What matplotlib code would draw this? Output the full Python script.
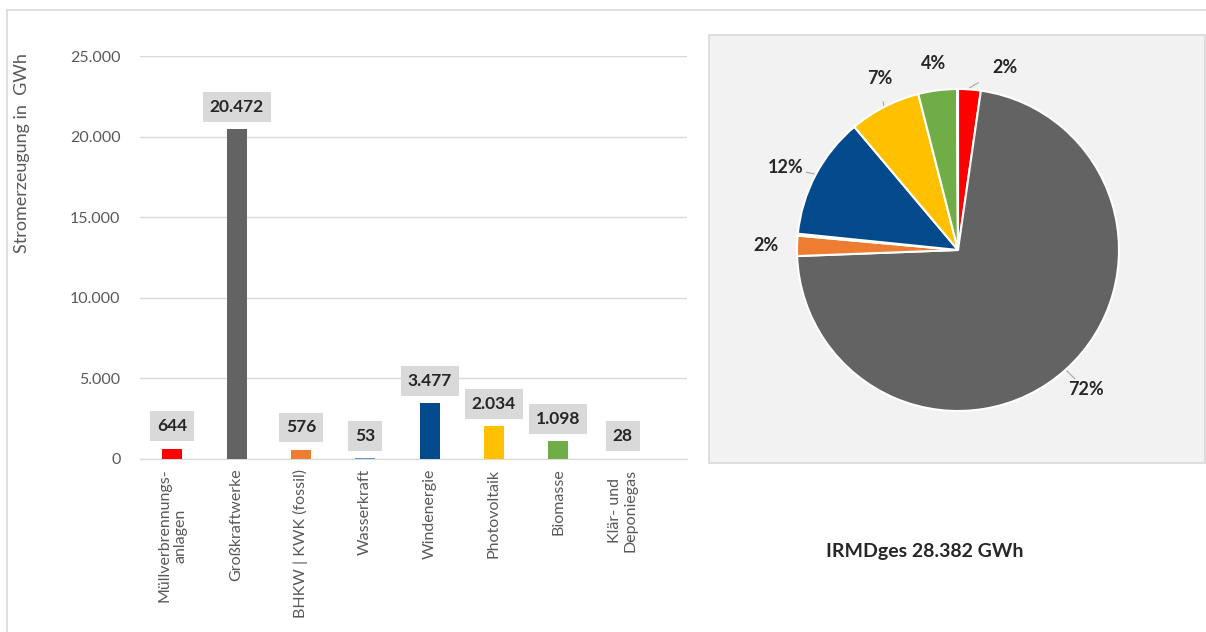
import matplotlib
matplotlib.use("Agg")
import numpy as np
import matplotlib.pyplot as plt
from matplotlib.patches import Rectangle
from matplotlib.lines import Line2D
from matplotlib.ticker import FuncFormatter

plt.rcParams['font.family'] = ['Lato', 'DejaVu Sans']

# data
categories = ["Müllverbrennungs-\nanlagen", "Großkraftwerke", "BHKW | KWK (fossil)",
              "Wasserkraft", "Windenergie", "Photovoltaik", "Biomasse",
              "Klär- und\nDeponiegas"]
values = [644, 20472, 576, 53, 3477, 2034, 1098, 28]
value_labels = ["644", "20.472", "576", "53", "3.477", "2.034", "1.098", "28"]
colors = ["#ff0000", "#636363", "#ed7d31", "#5b9bd5", "#034a8c", "#ffc000", "#70ad47", "#a5a5a5"]
pie_labels = ["2%", "72%", "2%", "", "12%", "7%", "4%", ""]
leader = [True, True, False, False, True, True, False, False]
label_shift = [-10, 0, 0, 0, 2, -3, 0, 0]   # degrees, nudges label placement
total_label = "IRMDges 28.382 GWh"

W, H = 1206, 632
fig = plt.figure(figsize=(W / 100, H / 100), dpi=100)

def px(x0, y0, x1, y1):
    # pixel box (top-left origin) -> figure fraction rect
    return [x0 / W, 1 - y1 / H, (x1 - x0) / W, (y1 - y0) / H]

# outer frame lines
fig.add_artist(Line2D([7 / W, 7 / W], [0, 1 - 10 / H], transform=fig.transFigure, color="#d9d9d9", lw=1.2))
fig.add_artist(Line2D([7 / W, 1], [1 - 10 / H, 1 - 10 / H], transform=fig.transFigure, color="#d9d9d9", lw=1.2))

# ---- bar chart ----
ax = fig.add_axes(px(140, 56, 687, 459))
x = np.arange(len(values))
ax.bar(x, values, width=0.31, color=colors, zorder=3)
ax.set_xlim(-0.5, 8.0)
ax.set_ylim(0, 25000)
ax.set_yticks(np.arange(0, 25001, 5000))
ax.yaxis.set_major_formatter(FuncFormatter(lambda v, p: "{:,.0f}".format(v).replace(",", ".")))
ax.grid(axis="y", color="#d9d9d9", lw=1, zorder=0)
for s in ["top", "right", "left"]:
    ax.spines[s].set_visible(False)
ax.spines["bottom"].set_color("#d9d9d9")
ax.tick_params(axis="both", length=0, colors="#595959", labelsize=11.5)
ax.tick_params(axis="y", pad=14)
ax.tick_params(axis="x", pad=7)
ax.set_xticks(x)
ax.set_xticklabels(categories, rotation=90, va="top", ha="center", multialignment="center")

for xi, v, lab in zip(x, values, value_labels):
    ax.annotate(lab, (xi, v), xytext=(0, 16), textcoords="offset points",
                ha="center", va="center", fontsize=12.5, fontweight="bold", color="#262626",
                bbox=dict(boxstyle="square,pad=0.4", fc="#d9d9d9", ec="none"), zorder=4)

fig.text(22 / W, 1 - 153 / H, "Stromerzeugung in  GWh", rotation=90, ha="center", va="center",
         fontsize=13, color="#595959")

# ---- pie chart ----
fig.add_artist(Rectangle((709 / W, 1 - 463 / H), 496 / W, 428 / H, transform=fig.transFigure,
                         fc="#f2f2f2", ec="#d9d9d9", lw=1.2, zorder=0))

cx, cy, r = 958, 250, 161
half = r * 1.3
ax2 = fig.add_axes(px(cx - half, cy - half, cx + half, cy + half))
ax2.set_facecolor("none")
wedges, _ = ax2.pie(values, colors=colors, startangle=90, counterclock=False,
                    wedgeprops=dict(edgecolor="white", linewidth=1.5))
ax2.set_xlim(-1.3, 1.3)
ax2.set_ylim(-1.3, 1.3)
ax2.set_aspect("equal")
ax2.axis("off")

for w, lab, ln, sh in zip(wedges, pie_labels, leader, label_shift):
    if not lab:
        continue
    mid = np.deg2rad((w.theta1 + w.theta2) / 2)
    ang = mid + np.deg2rad(sh)
    tx, ty = 1.19 * np.cos(ang), 1.17 * np.sin(ang)
    if ln:
        ax2.annotate(lab, (1.01 * np.cos(mid), 1.01 * np.sin(mid)), xytext=(tx, ty),
                     ha="center", va="center", fontsize=13, fontweight="bold", color="#262626",
                     arrowprops=dict(arrowstyle="-", color="#a6a6a6", lw=0.8, shrinkA=9, shrinkB=0))
    else:
        ax2.text(tx, ty, lab, ha="center", va="center", fontsize=13, fontweight="bold", color="#262626")

fig.text(925 / W, 1 - 551 / H, total_label, ha="center", va="center", fontsize=14,
         fontweight="bold", color="#262626")

fig.savefig("out.png", dpi=100, facecolor="white")
